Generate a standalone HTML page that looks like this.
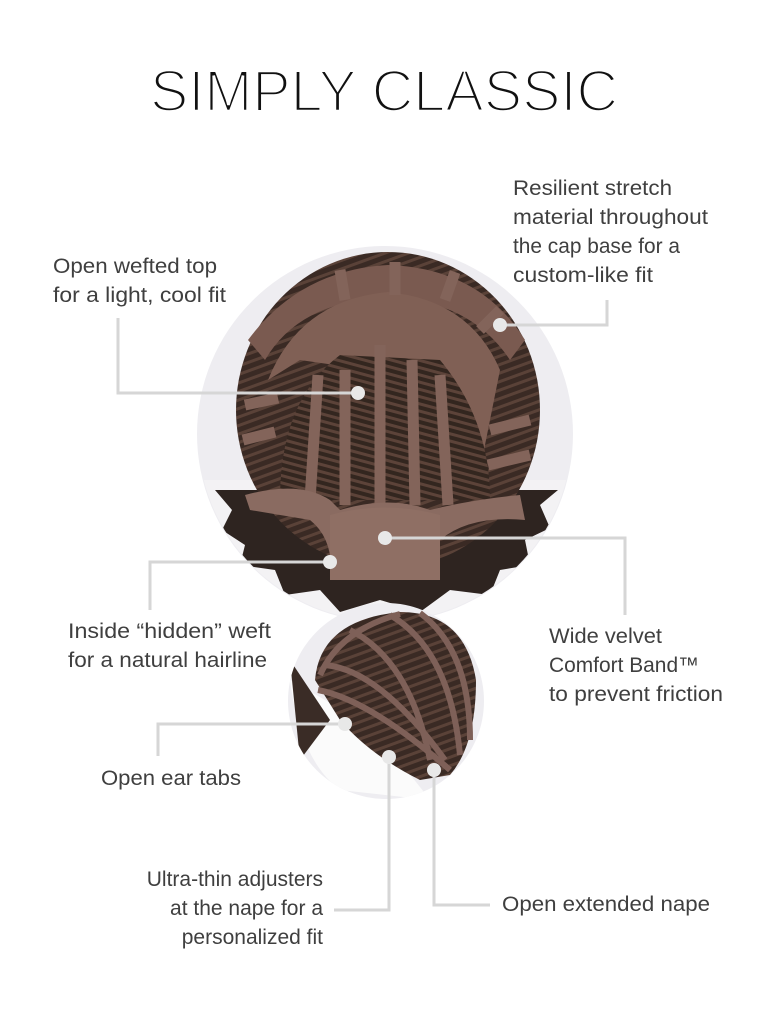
<!DOCTYPE html>
<html><head><meta charset="utf-8"><style>
html,body{margin:0;padding:0;background:#fff;}
svg{display:block;}
text{font-family:"Liberation Sans",sans-serif;fill:#3f3f3f;font-size:21px;}
</style></head><body>
<svg width="768" height="1024" viewBox="0 0 768 1024" xmlns="http://www.w3.org/2000/svg">
<defs>
<clipPath id="bigc"><circle cx="385" cy="434" r="187"/></clipPath>
<clipPath id="smc"><circle cx="386" cy="701" r="98"/></clipPath>
<pattern id="stripe" width="10" height="8" patternUnits="userSpaceOnUse" patternTransform="rotate(-20)">
<rect width="10" height="8" fill="#3a2a24"/><rect width="10" height="3" fill="#5a4238"/></pattern>
<pattern id="stripe2" width="10" height="7" patternUnits="userSpaceOnUse" patternTransform="rotate(15)">
<rect width="10" height="7" fill="#33261f"/><rect width="10" height="3" fill="#5c4339"/></pattern>
</defs>
<text x="150" y="111" textLength="468" lengthAdjust="spacingAndGlyphs" stroke="#fff" stroke-width="2.6" style="fill:#111;font-size:58px;">SIMPLY CLASSIC</text>

<!-- big circle -->
<circle cx="385" cy="434" r="188" fill="#eeedf1"/>
<g clip-path="url(#bigc)">
<rect x="190" y="480" width="400" height="160" fill="#f3f2f4"/>
<path d="M215 490 L232 510 L222 530 L245 545 L240 565 L275 570 L285 595 L320 590 L340 612 L380 600 L420 612 L450 590 L490 595 L500 570 L530 565 L525 540 L550 528 L540 505 L558 490 Z" fill="#2e2420"/>
<ellipse cx="388" cy="410" rx="152" ry="158" fill="url(#stripe)"/>
<path d="M248 340 Q300 270 388 265 Q480 268 525 340 L510 360 Q470 300 388 298 Q300 300 265 360 Z" fill="#7a5a50"/>
<path d="M268 380 Q300 300 388 292 Q470 300 500 370 L480 470 Q470 420 440 380 L300 360 Z" fill="#806055"/>
<path d="M280 500 Q280 400 340 355 L440 360 Q490 420 490 500 Z" fill="url(#stripe2)"/>
<g stroke="#83645a" stroke-width="11" fill="none">
<path d="M310 500 L318 375"/><path d="M345 505 L345 370"/><path d="M380 505 L380 345"/>
<path d="M415 505 L412 360"/><path d="M448 505 L440 375"/>
<path d="M243 440 L275 432"/><path d="M245 405 L278 398"/><path d="M490 430 L530 420"/><path d="M488 465 L530 455"/>
<path d="M340 270 L345 300"/><path d="M395 262 L395 295"/><path d="M455 272 L445 300"/><path d="M500 310 L480 330"/>
</g>
<path d="M245 495 Q300 480 330 500 L340 510 Q390 495 430 510 Q470 500 520 495 L525 520 Q470 515 440 540 L440 580 L330 580 Q335 540 310 520 L250 510 Z" fill="#8a6b61"/>
<path d="M330 515 Q385 500 440 515 L440 580 L330 580 Z" fill="#8f6f64"/>
</g>

<!-- small circle -->
<circle cx="386" cy="701" r="98" fill="#eeedf1"/>
<g clip-path="url(#smc)">
<path d="M290 680 Q300 760 340 790 L430 800 Q400 760 360 720 Z" fill="#fbfbfb"/>
<path d="M290 660 L300 760 L330 720 Z" fill="#3a2c26"/>
<path d="M315 680 Q320 620 400 612 Q465 612 476 680 Q476 745 450 775 L420 780 Q370 755 340 720 Z" fill="url(#stripe)"/>
<g stroke="#7e6058" stroke-width="6" fill="none">
<path d="M318 690 Q370 700 450 770"/><path d="M325 665 Q380 670 445 760"/>
<path d="M350 630 Q410 660 430 760"/><path d="M390 615 Q450 650 460 755"/><path d="M420 613 Q470 650 470 740"/>
<path d="M320 675 Q340 630 400 614"/>
</g>
</g>

<!-- connectors -->
<g stroke="#d6d6d6" stroke-width="3" fill="none">
<polyline points="118,318 118,393 358,393"/>
<polyline points="500,325 607,325 607,300"/>
<polyline points="330,562 150,562 150,610"/>
<polyline points="385,538 625,538 625,615"/>
<polyline points="345,724 158,724 158,756"/>
<polyline points="389,757 389,910 334,910"/>
<polyline points="434,770 434,905 490,905"/>
</g>
<g fill="#e8e8e8">
<circle cx="358" cy="393" r="7"/><circle cx="500" cy="325" r="7"/><circle cx="330" cy="562" r="7"/>
<circle cx="385" cy="538" r="7"/><circle cx="345" cy="724" r="7"/><circle cx="389" cy="757" r="7"/><circle cx="434" cy="770" r="7"/>
</g>

<text x="53" y="273" textLength="164" lengthAdjust="spacingAndGlyphs">Open wefted top</text>
<text x="53" y="302" textLength="173" lengthAdjust="spacingAndGlyphs">for a light, cool fit</text>
<text x="513" y="195" textLength="159" lengthAdjust="spacingAndGlyphs">Resilient stretch</text>
<text x="513" y="224" textLength="195" lengthAdjust="spacingAndGlyphs">material throughout</text>
<text x="513" y="253" textLength="167" lengthAdjust="spacingAndGlyphs">the cap base for a</text>
<text x="513" y="282" textLength="140" lengthAdjust="spacingAndGlyphs">custom-like fit</text>
<text x="68" y="638" textLength="203" lengthAdjust="spacingAndGlyphs">Inside “hidden” weft</text>
<text x="68" y="667" textLength="199" lengthAdjust="spacingAndGlyphs">for a natural hairline</text>
<text x="549" y="643" textLength="113" lengthAdjust="spacingAndGlyphs">Wide velvet</text>
<text x="549" y="672" textLength="150" lengthAdjust="spacingAndGlyphs">Comfort Band™</text>
<text x="549" y="701" textLength="174" lengthAdjust="spacingAndGlyphs">to prevent friction</text>
<text x="101" y="785" textLength="140" lengthAdjust="spacingAndGlyphs">Open ear tabs</text>
<text x="323" y="886" text-anchor="end">Ultra-thin adjusters</text>
<text x="323" y="915" text-anchor="end">at the nape for a</text>
<text x="323" y="944" text-anchor="end">personalized fit</text>
<text x="502" y="911" textLength="208" lengthAdjust="spacingAndGlyphs">Open extended nape</text>
</svg>
</body></html>
